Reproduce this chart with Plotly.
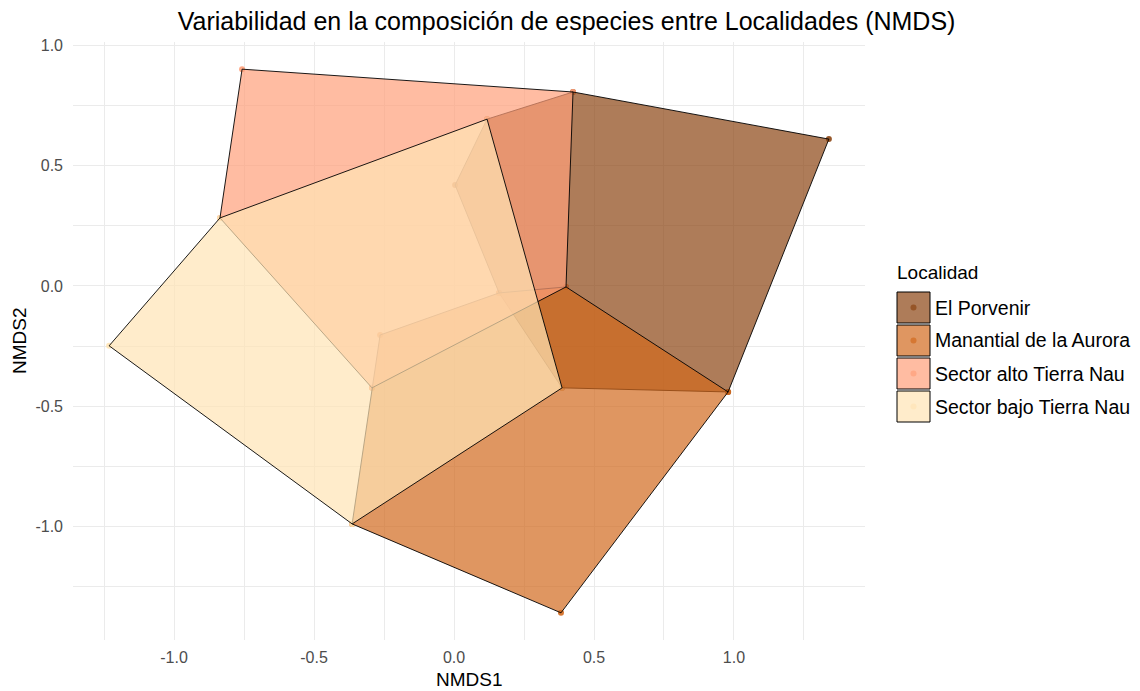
import plotly.graph_objects as go

# ---- data (NMDS site scores forming the hull of each locality) ----
groups = ["El Porvenir", "Manantial de la Aurora", "Sector alto Tierra Nau", "Sector bajo Tierra Nau"]
group_colors = ["#8B4513", "#D2691E", "#FFA07A", "#FFE4B5"]

porvenir_x = [0.118, 0.425, 1.339, 0.979, 0.386, 0.161, 0.004]
porvenir_y = [0.694, 0.807, 0.611, -0.441, -0.424, -0.029, 0.420]
manantial_x = [0.161, 0.400, 0.979, 0.382, -0.364, -0.293, -0.264]
manantial_y = [-0.029, -0.004, -0.441, -1.360, -0.990, -0.424, -0.204]
alto_x = [-0.757, 0.425, 0.400, -0.293, -0.836]
alto_y = [0.902, 0.807, -0.004, -0.424, 0.283]
bajo_x = [0.118, 0.386, -0.364, -1.232, -0.836]
bajo_y = [0.694, -0.424, -0.990, -0.249, 0.283]

tick_vals = [-1.0, -0.5, 0.0, 0.5, 1.0]
tick_text = ["-1.0", "-0.5", "0.0", "0.5", "1.0"]
minor_x = [-1.25, -0.75, -0.25, 0.25, 0.75, 1.25]
minor_y = [-1.25, -0.75, -0.25, 0.25, 0.75]

hulls = [(porvenir_x, porvenir_y), (manantial_x, manantial_y), (alto_x, alto_y), (bajo_x, bajo_y)]

ALPHA = 0.7
FONT = "Liberation Sans, Arial, sans-serif"


def rgba(hex_color, a):
    h = hex_color.lstrip("#")
    r, g, b = int(h[0:2], 16), int(h[2:4], 16), int(h[4:6], 16)
    return f"rgba({r},{g},{b},{a})"


fig = go.Figure()
# points first (drawn beneath the hulls)
for name, col, (hx, hy) in zip(groups, group_colors, hulls):
    fig.add_trace(go.Scatter(
        x=hx, y=hy, mode="markers",
        marker=dict(color=rgba(col, 0.9), size=6, line=dict(width=0)),
        name=name, showlegend=False, hoverinfo="x+y",
    ))
# convex hull polygons
for name, col, (hx, hy) in zip(groups, group_colors, hulls):
    fig.add_trace(go.Scatter(
        x=list(hx) + [hx[0]], y=list(hy) + [hy[0]],
        mode="lines", fill="toself", fillcolor=rgba(col, ALPHA),
        line=dict(color="black", width=0.9), name=name, showlegend=False,
        hoverinfo="name",
    ))

W, H = 1140, 691
L, R, T, B = 73, 275, 42, 51
PW, PH = W - L - R, H - T - B


def px(xp):
    return (xp - L) / PW


def py(yp):
    return (H - B - yp) / PH


shapes = []
annotations = []
# custom ggplot-style legend
annotations.append(dict(text="Localidad", x=px(895), y=py(272), xref="paper", yref="paper",
                        xanchor="left", yanchor="middle", showarrow=False,
                        font=dict(family=FONT, size=19, color="black")))
key_centers = [307.5, 340.5, 373.5, 406.5]
for name, col, yc in zip(groups, group_colors, key_centers):
    shapes.append(dict(type="rect", xref="paper", yref="paper",
                       x0=px(897), x1=px(930), y0=py(yc + 15.5), y1=py(yc - 15.5),
                       fillcolor=rgba(col, ALPHA), line=dict(color="black", width=1)))
    shapes.append(dict(type="circle", xref="paper", yref="paper",
                       x0=px(910.5), x1=px(916.5), y0=py(yc + 3), y1=py(yc - 3),
                       fillcolor=rgba(col, ALPHA), line=dict(width=0)))
    annotations.append(dict(text=name, x=px(933), y=py(yc), xref="paper", yref="paper",
                            xanchor="left", yanchor="middle", showarrow=False,
                            font=dict(family=FONT, size=19.5, color="black")))

# axis titles
annotations.append(dict(text="NMDS1", x=0.5, y=py(679), xref="paper", yref="paper",
                        xanchor="center", yanchor="middle", showarrow=False,
                        font=dict(family=FONT, size=19, color="black")))
annotations.append(dict(text="NMDS2", x=px(19), y=0.5, xref="paper", yref="paper",
                        xanchor="center", yanchor="middle", showarrow=False, textangle=-90,
                        font=dict(family=FONT, size=19, color="black")))

axis_common = dict(
    tickvals=tick_vals, ticktext=tick_text, showgrid=True, gridcolor="#EBEBEB", gridwidth=1,
    zeroline=False, showline=False, ticks="",
    tickfont=dict(family=FONT, size=16, color="#4D4D4D"),
)

fig.update_layout(
    width=W, height=H,
    margin=dict(l=L, r=R, t=T, b=B, autoexpand=False),
    paper_bgcolor="white", plot_bgcolor="white",
    title=dict(text="Variabilidad en la composición de especies entre Localidades (NMDS)",
               x=0.497, xref="container", xanchor="center",
               y=1 - 21 / H, yref="container", yanchor="middle",
               font=dict(family=FONT, size=25, color="black")),
    xaxis=dict(range=[-1.361, 1.468], **axis_common,
               minor=dict(tickvals=minor_x, showgrid=True, gridcolor="#EBEBEB", gridwidth=0.8),
               ticklabelstandoff=6),
    yaxis=dict(range=[-1.473, 1.015], **axis_common,
               minor=dict(tickvals=minor_y, showgrid=True, gridcolor="#EBEBEB", gridwidth=0.8),
               ticklabelstandoff=9),
    shapes=shapes, annotations=annotations, showlegend=False,
)

fig.write_html("out.html", config={"displayModeBar": False},
               post_script="document.body.style.margin='0px';document.body.style.overflow='hidden';")
